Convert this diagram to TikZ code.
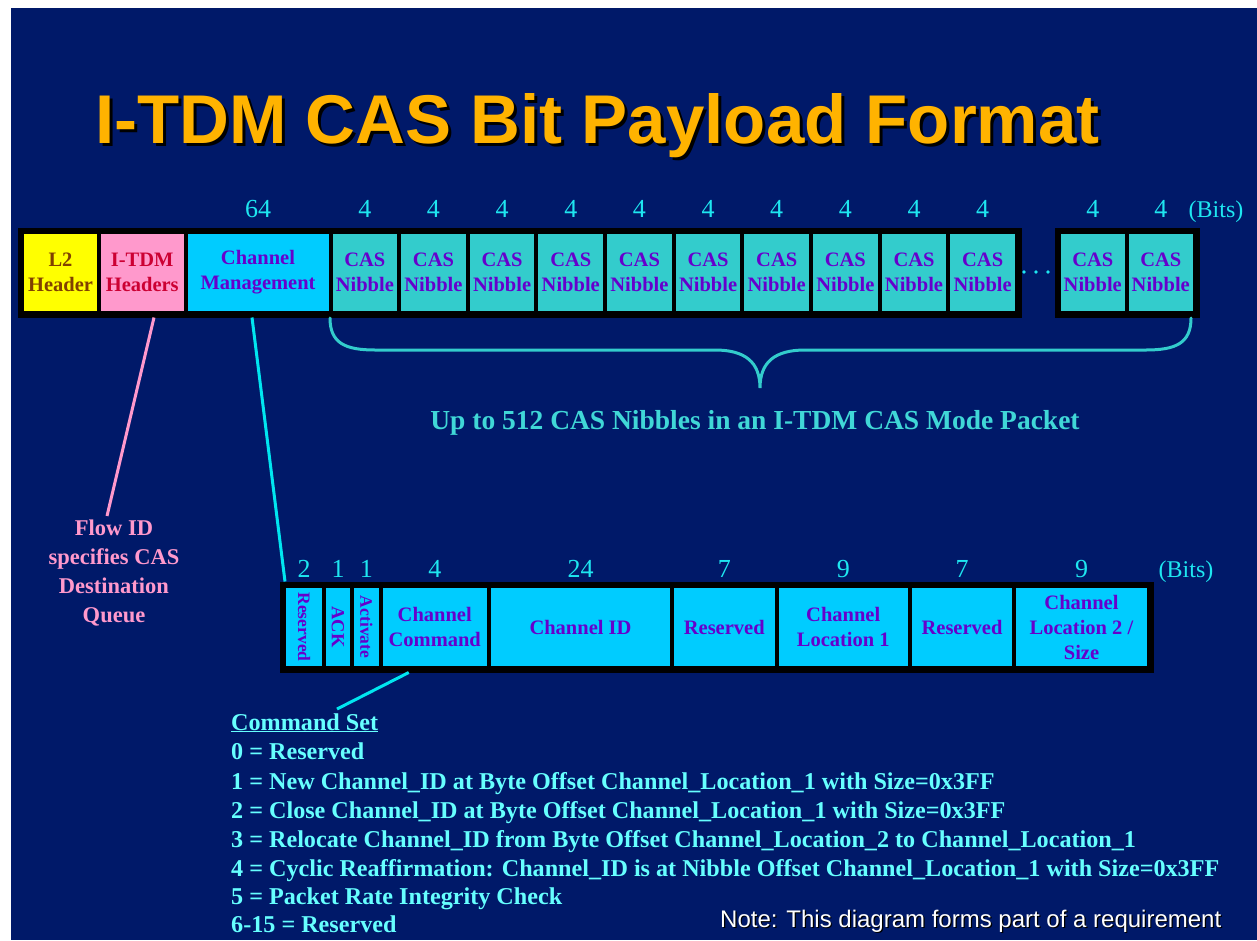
\documentclass[tikz,border=0pt]{standalone}
\usepackage{fontspec}
\setmainfont{Liberation Serif}
\newfontfamily\arialf{Liberation Sans}
\usetikzlibrary{calc}
\definecolor{bg}{RGB}{0,25,105}
\definecolor{titleor}{RGB}{255,179,0}
\definecolor{yel}{RGB}{255,255,0}
\definecolor{pinkf}{RGB}{255,153,204}
\definecolor{cyanf}{RGB}{0,204,255}
\definecolor{tealf}{RGB}{51,204,204}
\definecolor{purp}{RGB}{102,0,204}
\definecolor{brownt}{RGB}{128,64,0}
\definecolor{crim}{RGB}{204,0,51}
\definecolor{bitc}{RGB}{30,230,240}
\definecolor{cmdc}{RGB}{102,255,255}
\definecolor{linec}{RGB}{0,230,240}
\definecolor{uptoc}{RGB}{64,215,215}
\newcommand{\shadowtext}[3]{\rlap{\hspace{#1}\raisebox{-#1}{\color{black}#3}}{\color{#2}#3}}
\begin{document}
\begin{tikzpicture}[x=1pt,y=-1pt,
  fld/.style={draw=black, line width=4pt, inner sep=0pt, align=center, text=purp,
    font=\fontsize{20.5}{25}\selectfont\bfseries, anchor=north west},
  bitlbl/.style={text=bitc, font=\fontsize{26}{26}\selectfont, inner sep=0pt, anchor=base},
  bitsword/.style={text=bitc, font=\fontsize{24}{24}\selectfont, inner sep=0pt, anchor=base},
  vlbl/.style={rotate=-90, text=purp, inner sep=0pt, font=\fontsize{17.5}{17.5}\selectfont\bfseries},
  frame/.style={draw=black, line width=5pt},
  cmdline/.style={text=cmdc, inner sep=0pt, anchor=base west, font=\fontsize{24.15}{24.15}\selectfont\bfseries},
  conn/.style={line width=3pt},
]
\useasboundingbox (0,0) rectangle (1257,940);
\fill[white] (0,0) rectangle (1257,940);
\fill[bg] (11,8) rectangle (1257,940);

% title
\node[anchor=base west, inner sep=0pt, font=\arialf\fontsize{69}{69}\selectfont\bfseries] (title) at (95,143) {\shadowtext{3pt}{titleor}{I-TDM CAS Bit Payload Format}};

% top row
\node[fld, fill=yel, text=brownt, minimum width=77, minimum height=81] (L2) at (20,230) {L2\\Header};
\node[fld, fill=pinkf, text=crim, minimum width=86.5, minimum height=81] (ITDM) at (97,230) {I-TDM\\Headers};
\node[fld, fill=cyanf, minimum width=145, minimum height=81] (CM) at (183.5,230) {Channel\\Management};
\foreach \i in {1,...,10}{
  \node[fld, fill=tealf, minimum width=68.65, minimum height=81] (n\i) at ({328.5+68.65*(\i-1)},230) {CAS\\Nibble};
}
\node[fld, fill=tealf, minimum width=67.5, minimum height=81] (n11) at (1057,230) {CAS\\Nibble};
\node[fld, fill=tealf, minimum width=68.5, minimum height=81] (n12) at (1124.5,230) {CAS\\Nibble};
\draw[frame] (L2.north west) rectangle (n10.south east);
\draw[frame] (n11.north west) rectangle (n12.south east);
\foreach \x in {1024,1036,1048} \fill[bitc] (\x,272) circle (1.8);

\node[bitlbl] at ($(CM.north)+(0,-13)$) {64};
\foreach \i in {1,...,12} \node[bitlbl] at ($(n\i.north)+(0,-13)$) {4};
\node[bitsword] at (1216,217) {(Bits)};

% brace
\coordinate (bl) at (330,318);
\coordinate (br) at (1191,318);
\coordinate (btip) at (760,388);
\draw[tealf, line width=3pt, line cap=round]
  (bl) .. controls (330,343) and (345,350) .. (375,350) -- (715,350)
  .. controls (745,350) and (760,362) .. (btip)
  .. controls (760,362) and (775,350) .. (805,350) -- (1146,350)
  .. controls (1176,350) and (1191,343) .. (br);
\node[anchor=base, inner sep=0pt, text=uptoc, font=\fontsize{27.5}{27.5}\selectfont\bfseries] (upto) at (755,429) {Up to 512 CAS Nibbles in an I-TDM CAS Mode Packet};

% flow id
\node[anchor=north, inner sep=0pt, align=center, text=pinkf, font=\fontsize{22.5}{29}\selectfont\bfseries] (flow) at (114,520) {Flow ID\\specifies CAS\\Destination\\Queue};

% second row
\node[fld, fill=cyanf, minimum width=40, minimum height=82] (r1) at (282,584) {};
\node[fld, fill=cyanf, minimum width=28, minimum height=82] (r2) at (322,584) {};
\node[fld, fill=cyanf, minimum width=28.5, minimum height=82] (r3) at (350,584) {};
\node[fld, fill=cyanf, minimum width=108.5, minimum height=82] (cc) at (378.5,584) {Channel\\Command};
\node[fld, fill=cyanf, minimum width=183, minimum height=82] (cid) at (487,584) {Channel ID};
\node[fld, fill=cyanf, minimum width=104.5, minimum height=82] (res) at (670,584) {Reserved};
\node[fld, fill=cyanf, minimum width=133.5, minimum height=82] (cl1) at (774.5,584) {Channel\\Location 1};
\node[fld, fill=cyanf, minimum width=104, minimum height=82] (res2) at (908,584) {Reserved};
\node[fld, fill=cyanf, minimum width=135, minimum height=82] (cl2) at (1012,584) {Channel\\Location 2 /\\Size};
\draw[frame] (r1.north west) rectangle (cl2.south east);
\node[vlbl] at (r1.center) {Reserved};
\node[vlbl, font=\fontsize{18.5}{18.5}\selectfont\bfseries] at (r2.center) {ACK};
\node[vlbl] at (r3.center) {Activate};

\node[bitlbl] at ($(r1.north)+(0,-7)$) {2};
\node[bitlbl] at ($(r2.north)+(0,-7)$) {1};
\node[bitlbl] at ($(r3.north)+(0,-7)$) {1};
\node[bitlbl] at ($(cc.north)+(0,-7)$) {4};
\node[bitlbl] at ($(cid.north)+(0,-7)$) {24};
\node[bitlbl] at ($(res.north)+(0,-7)$) {7};
\node[bitlbl] at ($(cl1.north)+(0,-7)$) {9};
\node[bitlbl] at ($(res2.north)+(0,-7)$) {7};
\node[bitlbl] at ($(cl2.north)+(0,-7)$) {9};
\node[bitsword] at (1186,577) {(Bits)};

% connectors
\draw[pinkf, conn] ([xshift=11.75pt, yshift=-2.5pt]ITDM.south) -- ([xshift=-7pt, yshift=4pt]flow.north);
\draw[linec, conn] ([xshift=-6pt, yshift=-2.5pt]CM.south) -- ([xshift=3pt, yshift=2.5pt]r1.north west);
\coordinate (cmdend) at (337,709);
\draw[linec, conn] ([xshift=-26pt, yshift=-2.5pt]cc.south) -- (cmdend);

% command set
\node[cmdline] (cs) at (231,730) {\underline{Command Set}};
\node[cmdline] at (231,759) {0 = Reserved};
\node[cmdline] at (231,789) {1 = New Channel\_ID at Byte Offset Channel\_Location\_1 with Size=0x3FF};
\node[cmdline] at (231,818) {2 = Close Channel\_ID at Byte Offset Channel\_Location\_1 with Size=0x3FF};
\node[cmdline] at (231,847) {3 = Relocate Channel\_ID from Byte Offset Channel\_Location\_2 to Channel\_Location\_1};
\node[cmdline] at (231,876) {4 = Cyclic Reaffirmation: Channel\_ID is at Nibble Offset Channel\_Location\_1 with Size=0x3FF};
\node[cmdline] at (231,904) {5 = Packet Rate Integrity Check};
\node[cmdline] at (231,932) {6-15 = Reserved};

% note
\node[anchor=base west, inner sep=0pt, font=\arialf\fontsize{24}{24}\selectfont] (note) at (720,927) {\shadowtext{1.2pt}{white}{Note: This diagram forms part of a requirement}};
\end{tikzpicture}
\end{document}
